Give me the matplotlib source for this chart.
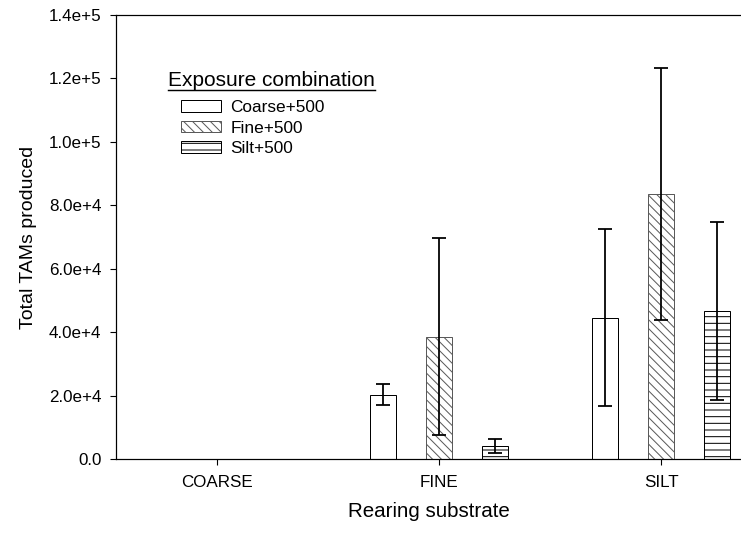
import numpy as np
import matplotlib
matplotlib.use('Agg')
import matplotlib.pyplot as plt
from matplotlib.patches import Patch

plt.rcParams['font.family'] = ['Liberation Sans', 'DejaVu Sans']
plt.rcParams['hatch.linewidth'] = 0.9

categories = ['COARSE', 'FINE', 'SILT']
series_names = ['Coarse+500', 'Fine+500', 'Silt+500']

# mean and error per rearing substrate (no data for COARSE)
coarse500 = [np.nan, 20200, 44600]
coarse500_err = [np.nan, 3300, 28000]
fine500 = [np.nan, 38600, 83500]
fine500_err = [np.nan, 31000, 39700]
silt500 = [np.nan, 4100, 46700]
silt500_err = [np.nan, 2100, 28000]

yticks = [0, 20000, 40000, 60000, 80000, 100000, 120000, 140000]
ytick_labels = ['0.0', '2.0e+4', '4.0e+4', '6.0e+4', '8.0e+4', '1.0e+5', '1.2e+5', '1.4e+5']

dpi = 80
fig = plt.figure(figsize=(741 / dpi, 535 / dpi), dpi=dpi)
ax = fig.add_axes([116 / 741, 76 / 535, 625 / 741, 444 / 535])

x = np.arange(len(categories))
w = 0.117
off = 0.252
styles = [
    dict(facecolor='white', edgecolor='black', hatch=None),
    dict(facecolor='white', edgecolor='#5a5a5a', hatch='\\\\\\'),
    dict(facecolor='white', edgecolor='black', hatch='--'),
]
means = [coarse500, fine500, silt500]
errs = [coarse500_err, fine500_err, silt500_err]

for i, (m, e, st) in enumerate(zip(means, errs, styles)):
    xs = x + (i - 1) * off
    ax.bar(xs, m, width=w, linewidth=0.9, zorder=2, **st)
    ax.errorbar(xs, m, yerr=e, fmt='none', ecolor='black', elinewidth=1.6,
                capsize=6.3, capthick=1.6, zorder=3)

ax.set_xlim(-0.455, 2.36)
ax.set_ylim(0, 140000)
ax.set_xticks(x)
ax.set_xticklabels(categories)
ax.set_yticks(yticks)
ax.set_yticklabels(ytick_labels)
ax.spines['right'].set_visible(False)
for s in ['left', 'bottom', 'top']:
    ax.spines[s].set_linewidth(1.1)
ax.tick_params(axis='both', direction='out', length=5, width=1.0, labelsize=15.3)
ax.tick_params(axis='y', pad=8)
ax.tick_params(axis='x', pad=9)
ax.set_xlabel('Rearing substrate', fontsize=18.5, labelpad=11)
ax.set_ylabel('Total TAMs produced', fontsize=17.5, labelpad=11)

handles = [Patch(label=n, linewidth=0.9, **st) for n, st in zip(series_names, styles)]
leg = ax.legend(handles=handles, loc='upper left', bbox_to_anchor=(181 / 741, 1 - 100 / 535),
                bbox_transform=fig.transFigure, frameon=False, fontsize=15.5,
                handlelength=2.3, handleheight=0.63, handletextpad=0.57,
                labelspacing=0.32, borderpad=0, borderaxespad=0)

title = fig.text(168 / 741, 1 - 86 / 535, 'Exposure combination', fontsize=18.8,
                 ha='left', va='baseline')
fig.canvas.draw()
bb = title.get_window_extent().transformed(fig.transFigure.inverted())
fig.add_artist(plt.Line2D([bb.x0, bb.x1], [1 - 89.5 / 535] * 2, color='black',
                          linewidth=1.3, transform=fig.transFigure))

fig.savefig('out.png', dpi=dpi)
